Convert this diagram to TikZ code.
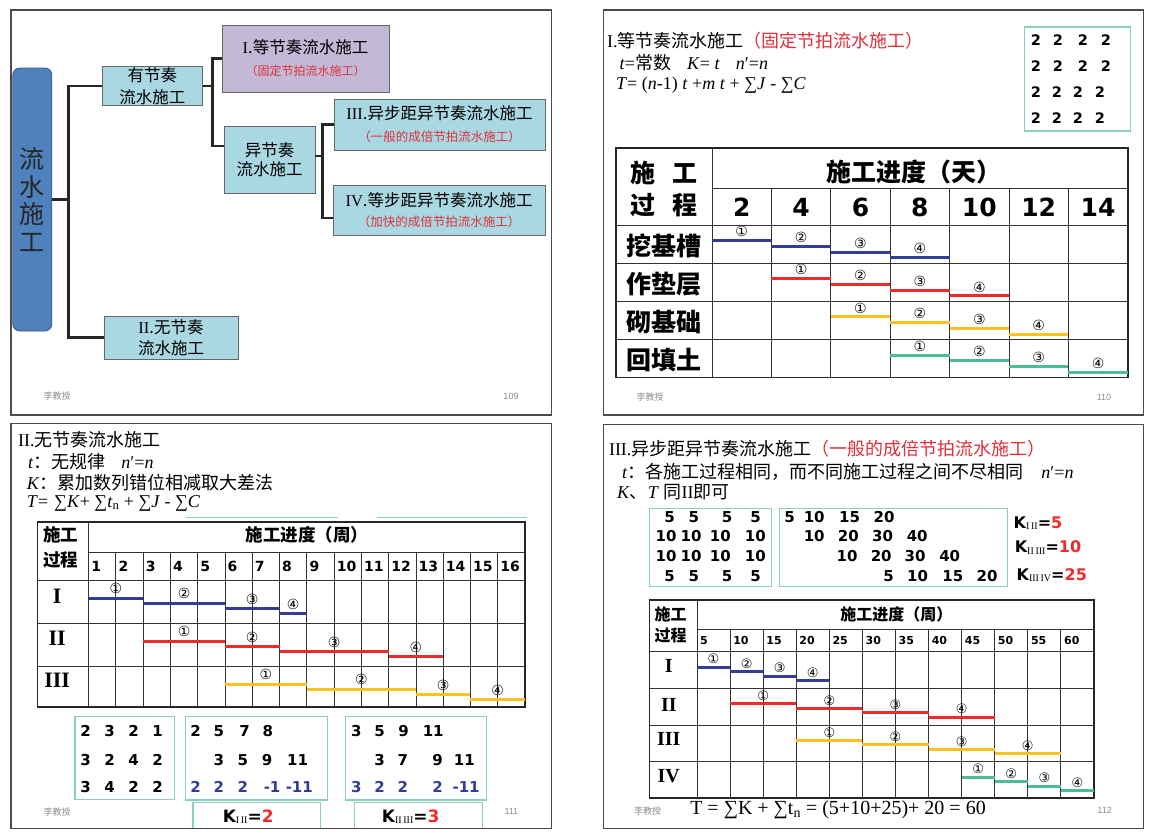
\documentclass[tikz,border=0pt]{standalone}
\usepackage{fontspec}
\setmainfont{Liberation Serif}
\newfontfamily\cjk{Noto Sans CJK SC}
\newfontfamily\heavy{DejaVu Sans}
\newfontfamily\plain{Liberation Sans}
\usetikzlibrary{positioning,calc}
\definecolor{boxblue}{HTML}{A9D8E2}
\definecolor{rootblue}{HTML}{4F81BD}
\definecolor{lilac}{HTML}{C3B8D5}
\definecolor{tred}{HTML}{E0303A}
\definecolor{tealline}{HTML}{8ACFC0}
\definecolor{barblue}{HTML}{343C96}
\definecolor{barred}{HTML}{EE2A2A}
\definecolor{baryel}{HTML}{FFC024}
\definecolor{bargrn}{HTML}{4DBD97}
\newcommand{\fsz}[1]{\fontsize{#1}{#1}\selectfont}
\newcommand{\hz}[1]{{\cjk #1}}
\newcommand{\hr}[1]{{\cjk\color{tred}#1}}
\newcommand{\ksub}[1]{\raisebox{-1.5pt}{\rmfamily\mdseries\fsz{10}#1}}
\newcommand{\circnum}[1]{\ifcase#1\or①\or②\or③\or④\fi}
\tikzset{
  slide/.style={draw=black!70, line width=1.3pt},
  leaf/.style={draw=black!60, line width=0.9pt, fill=boxblue, align=center,
               inner sep=0pt, font=\cjk\fontsize{16.5}{22}\selectfont},
  branch/.style={line width=2.4pt, draw=black!85},
  foot/.style={font=\cjk\fsz{9}, text=black!45, inner sep=0pt},
  grid/.style={line width=0.8pt, draw=black!80},
  frame/.style={line width=1.8pt, draw=black!85},
  bar/.style={line width=3pt},
  tag/.style={font=\heavy\fsz{14}, text=black, inner sep=0pt},
  numbox/.style={draw=tealline, line width=1.2pt},
  num/.style={font=\heavy\bfseries\fsz{15}, inner sep=0pt},
  txt/.style={anchor=west, inner sep=0pt, font=\fsz{18}}
}
\begin{document}
\begin{tikzpicture}[x=1pt, y=-1pt]
  \useasboundingbox (0,0) rectangle (1153,838);
  \fill[white] (0,0) rectangle (1153,838);

  % --- slide 109: the family tree ---
  \draw[slide] (11,10) rectangle (551.7,415);
  \node[draw=rootblue!70!black, fill=rootblue, rounded corners=7pt, line width=0.8pt,
        minimum width=39pt, minimum height=263pt, inner sep=0pt, align=center,
        text=black!85, font=\cjk\fontsize{25}{27.7}\selectfont] (root) at (32.3,199.5)
        {流\\水\\施\\工};
  \node[leaf, minimum width=100pt, minimum height=38.5pt] (yjz) at (152.3,85.8) {有节奏\\流水施工};
  \node[leaf, fill=lilac, minimum width=167pt, minimum height=67pt] (jp) at (305.5,58.5)
        {{\rmfamily I}.等节奏流水施工\\{\fsz{12}\color{tred}（固定节拍流水施工）}};
  \node[leaf, minimum width=91pt, minimum height=67pt, font=\cjk\fontsize{16.5}{19.5}\selectfont]
        (yjz2) at (269.5,159.5) {异节奏\\流水施工};
  \node[leaf, minimum width=211pt, minimum height=51pt] (yb) at (439.5,124.5)
        {{\rmfamily III}.异步距异节奏流水施工\\{\fsz{12.5}\color{tred}（一般的成倍节拍流水施工）}};
  \node[leaf, minimum width=212pt, minimum height=50pt, font=\cjk\fontsize{16.5}{20}\selectfont]
        (db) at (439,210)
        {{\rmfamily IV}.等步距异节奏流水施工\\{\fsz{12.5}\color{tred}（加快的成倍节拍流水施工）}};
  \node[leaf, minimum width=134pt, minimum height=43pt, font=\cjk\fontsize{16.5}{21}\selectfont]
        (wjz) at (171,337.5) {{\rmfamily II}.无节奏\\流水施工};
  % elbow connectors
  \coordinate (j1) at (68.6,199.5);
  \coordinate (j2) at (212.5,85.8);
  \coordinate (j3) at (322.5,156);
  \draw[branch] (root.east) -- (j1);
  \draw[branch] (yjz.west) -| (j1) |- (wjz.west);
  \draw[branch] (yjz.east) -- (j2);
  \draw[branch] (jp.west) -| (j2) |- ([yshift=13.5pt]yjz2.west);
  \draw[branch] ([yshift=3.5pt]yjz2.east) -- (j3);
  \draw[branch] (yb.west) -| (j3) |- ([yshift=-8pt]db.west);
  \node[foot] (f1a) at (57,396) {李教授};
  \node[foot, font=\plain\fsz{9}] (f1b) at (511,396) {109};

  % --- slide 110: fixed beat ---
  \draw[slide] (603.3,10) rectangle (1143.3,415);
  \node[txt] (t2) at (607,41) {I.\hz{等节奏流水施工}\hr{（固定节拍流水施工）}};
  \node[txt] (t2b) at (619.4,63)
        {\textit{t}=\hz{常数}\hspace{16pt}\textit{K}= \textit{t}\hspace{16pt}\textit{n}′=\textit{n}};
  \node[txt] (t2c) at (615.9,85)
        {\textit{T}= (\textit{n}-1) \textit{t} +\textit{m t} + ∑\textit{J} - ∑\textit{C}};
  \draw[numbox] (1024.5,27) rectangle (1130.3,131);
  \foreach \y in {40,66}
    \foreach \x [count=\i] in {1036,1058,1083,1106}
      \node[num, font=\heavy\bfseries\fsz{14.5}] (a\y\i) at (\x,\y) {2};
  \foreach \y in {92,118}
    \foreach \x [count=\i] in {1036,1057,1078,1100}
      \node[num, font=\heavy\bfseries\fsz{14.5}] (a\y\i) at (\x,\y) {2};
  % table
  \draw[frame] (615.9,148) rectangle (1128.2,377.4);
  \draw[grid] (712,148) -- (712,377.4);
  \draw[grid] (712,188) -- (1128.2,188);
  \foreach \i in {1,...,6}
    \draw[grid] ({712+59.4*\i},188) -- ({712+59.4*\i},377.4);
  \foreach \i in {0,...,3}
    \draw[grid] (615.9,{225+38.1*\i}) -- (1128.2,{225+38.1*\i});
  \node[font=\cjk\bfseries\fsz{25}] (hd2) at (914,172) {施工进度（天）};
  \node[font=\cjk\bfseries\fsz{25}] (pc2a) at (664,173) {施\hspace{17pt}工};
  \node[font=\cjk\bfseries\fsz{25}] (pc2b) at (664,205) {过\hspace{17pt}程};
  \foreach \d [count=\i from 0] in {2,4,...,14}
    \node[num, font=\heavy\bfseries\fsz{25}] (day\d) at ({712+59.4*(\i+0.5)},207) {\d};
  \foreach \w [count=\j from 0] in {挖基槽,作垫层,砌基础,回填土}
    \node[font=\cjk\bfseries\fsz{25}] (w\j) at (664,{246+38.1*\j}) {\w};
  \foreach \c [count=\j from 0] in {barblue,barred,baryel,bargrn}
    \foreach \k in {1,...,4} {
      \pgfmathsetmacro{\xa}{712+59.4*(\j+\k-1)}
      \pgfmathsetmacro{\yb}{225+38.1*\j+10+5.7*\k}
      \draw[bar, \c] (\xa,\yb) -- ++(59.4,0)
        node[tag, midway, yshift=9pt] (d\j\k) {\circnum{\k}};
    }
  \node[foot] (f2a) at (650,397) {李教授};
  \node[foot, font=\plain\fsz{9}] (f2b) at (1104,397) {110};

  % --- slide 111: no beat ---
  \draw[slide] (11,423.3) rectangle (551.7,828.5);
  \node[txt] (t3) at (17.9,440) {II.\hz{无节奏流水施工}};
  \node[txt] (t3b) at (27.9,461.7) {\textit{t}\hz{：无规律}\hspace{16pt}\textit{n}′=\textit{n}};
  \node[txt] (t3c) at (26.8,482.7) {\textit{K}\hz{：累加数列错位相减取大差法}};
  \node[txt] (t3d) at (26.8,503.3)
        {\textit{T}=\hspace{6pt}∑\textit{K}+ ∑\textit{t}\textsubscript{n} + ∑\textit{J} - ∑\textit{C}};
  \draw[tealline, line width=1pt] (185.7,517) -- (337.5,517);
  \draw[tealline, line width=1pt] (376.8,517) -- (526.8,517);
  % table
  \draw[frame] (37.5,521.7) rectangle (525,707);
  \draw[grid] (88.6,521.7) -- (88.6,707);
  \draw[grid] (88.6,552.7) -- (525,552.7);
  \foreach \i in {1,...,15}
    \draw[grid] ({88.6+27.275*\i},552.7) -- ({88.6+27.275*\i},707);
  \foreach \r in {580,623.3,666}
    \draw[grid] (37.5,\r) -- (525,\r);
  \node[font=\cjk\bfseries\fsz{17.5}] (hd3) at (307,535) {施工进度（周）};
  \node[font=\cjk\bfseries\fontsize{17.5}{25}\selectfont, align=center, inner sep=0pt]
        (pc3) at (60.7,547.5) {施工\\过程};
  \foreach \i in {1,...,16}
    \node[num, anchor=west, font=\heavy\bfseries\fsz{14}] (wk\i) at ({88.6+27.275*(\i-1)+2.5},566) {\i};
  \foreach \p [count=\j from 0] in {I,II,III}
    \node[font=\bfseries\fsz{22}] (p\j) at (57.1,{596.7+42*\j}) {\p};
  \foreach \c/\rt/\segs [count=\j from 0] in
      {barblue/580/{0/2,2/5,5/7,7/8}, barred/623.3/{2/5,5/7,7/11,11/13}, baryel/666/{5/8,8/12,12/14,14/16}}
    \foreach \sa/\sb [count=\k] in \segs {
      \pgfmathsetmacro{\yb}{\rt+12.8+5.2*\k}
      \draw[bar, \c] ({88.6+27.275*\sa},\yb) -- ({88.6+27.275*\sb},\yb)
        node[tag, midway, yshift=9.5pt] (n\j\k) {\circnum{\k}};
    }
  % difference boxes
  \draw[numbox] (75,716.7) rectangle (174.3,799.3);
  \draw[numbox] (185.7,716.7) rectangle (327.1,800);
  \draw[numbox] (345.7,716.7) rectangle (486.4,800);
  \foreach \y/\row [count=\r] in {730.7/{2,3,2,1}, 760/{3,2,4,2}, 787.3/{3,4,2,2}}
    \foreach \v [count=\i] in \row
      \node[num] (sa\r\i) at ({61.7+24*\i},\y) {\v};
  \foreach \x/\v [count=\i] in {195.7/2, 218.9/5, 244.6/7, 267.9/8}
    \node[num] (sb1\i) at (\x,730.7) {\v};
  \foreach \x/\v [count=\i] in {218.9/3, 242.9/5, 267.1/9, 297.5/11}
    \node[num] (sb2\i) at (\x,760) {\v};
  \foreach \x/\v [count=\i] in {195.7/2, 218.9/2, 242.9/2, 272.1/-1, 299.3/-11}
    \node[num, text=barblue] (sb3\i) at (\x,787.3) {\v};
  \foreach \x/\v [count=\i] in {356.4/3, 379.6/5, 403.6/9, 433.2/11}
    \node[num] (sc1\i) at (\x,730.7) {\v};
  \foreach \x/\v [count=\i] in {379.6/3, 402.9/7, 437.5/9, 464.3/11}
    \node[num] (sc2\i) at (\x,760) {\v};
  \foreach \x/\v [count=\i] in {356.4/3, 379.6/2, 402.9/2, 437.5/2, 466.1/-11}
    \node[num, text=barblue] (sc3\i) at (\x,787.3) {\v};
  \draw[numbox] (192.9,802.3) rectangle (320.7,828.5);
  \draw[numbox] (354.3,802.3) rectangle (482.1,828.5);
  \node[num, font=\heavy\bfseries\fsz{17}] (k12) at (248.2,816.5)
        {K\ksub{I\,II}=\textcolor{barred}{2}};
  \node[num, font=\heavy\bfseries\fsz{17}] (k23) at (410.7,816.5)
        {K\ksub{II\,III}=\textcolor{barred}{3}};
  \draw[slide] (11,828.5) -- (551.7,828.5);
  \node[foot] (f3a) at (57.1,811.7) {李教授};
  \node[foot, font=\plain\fsz{9}] (f3b) at (511.4,811.7) {111};

  % --- slide 112: multiple beat ---
  \draw[slide] (603.3,424.5) rectangle (1143.3,828.5);
  \node[txt] (t4) at (608.8,448.3) {III.\hz{异步距异节奏流水施工}\hr{（一般的成倍节拍流水施工）}};
  \node[txt] (t4b) at (621.9,471.7)
        {\textit{t}\hz{：各施工过程相同，而不同施工过程之间不尽相同}\hspace{18pt}\textit{n}′=\textit{n}};
  \node[txt] (t4c) at (617,491.7) {\textit{K}\hz{、}\textit{T} \hz{同}II\hz{即可}};
  \draw[numbox] (649.4,508.3) rectangle (771.1,586.7);
  \draw[numbox] (779.3,508.3) rectangle (1007.6,586.7);
  \foreach \y [count=\r] in {516.7,576}
    \foreach \x [count=\i] in {669.5,693.9,727,755.6}
      \node[num] (ta\r\i) at (\x,\y) {5};
  \foreach \y [count=\r from 3] in {536,556}
    \foreach \x [count=\i] in {666,691,720.3,755.3}
      \node[num] (ta\r\i) at (\x,\y) {10};
  \foreach \x/\v [count=\i] in {789.5/5, 814.2/10, 849.5/15, 884/20}
    \node[num] (tb1\i) at (\x,516.7) {\v};
  \foreach \x/\v [count=\i] in {814.2/10, 848.4/20, 882.6/30, 917.2/40}
    \node[num] (tb2\i) at (\x,536) {\v};
  \foreach \x/\v [count=\i] in {847/10, 881.2/20, 915.1/30, 949.7/40}
    \node[num] (tb3\i) at (\x,556) {\v};
  \foreach \x/\v [count=\i] in {888.6/5, 917.6/10, 952.9/15, 987.1/20}
    \node[num] (tb4\i) at (\x,576) {\v};
  \node[num, anchor=west, font=\heavy\bfseries\fsz{16}] (ka) at (1013.5,523.3)
        {K\ksub{I\,II}=\textcolor{barred}{5}};
  \node[num, anchor=west, font=\heavy\bfseries\fsz{16}] (kb) at (1014.6,547.7)
        {K\ksub{II\,III}=\textcolor{barred}{10}};
  \node[num, anchor=west, font=\heavy\bfseries\fsz{16}] (kc) at (1016.4,575)
        {K\ksub{III\,IV}=\textcolor{barred}{25}};
  % table
  \draw[frame] (649.4,600) rectangle (1094,798.3);
  \draw[grid] (697,600) -- (697,798.3);
  \draw[grid] (697,629.3) -- (1094,629.3);
  \foreach \i in {1,...,11}
    \draw[grid] ({697+33.08*\i},629.3) -- ({697+33.08*\i},798.3);
  \foreach \r in {651.7,688.4,725,761.7}
    \draw[grid] (649.4,\r) -- (1094,\r);
  \node[font=\cjk\bfseries\fsz{16}] (hd4) at (896.4,614) {施工进度（周）};
  \node[font=\cjk\bfseries\fontsize{16}{21}\selectfont, align=center, inner sep=0pt]
        (pc4) at (670.6,624.5) {施工\\过程};
  \foreach \n [count=\i from 0] in {5,10,...,60}
    \node[num, anchor=west, font=\heavy\bfseries\fsz{11}] (m\n) at ({697+33.08*\i+3},640.7) {\n};
  \foreach \p/\y [count=\j from 0] in {I/666,II/705,III/739.3,IV/776}
    \node[font=\bfseries\fsz{20}] (q\j) at (668.8,\y) {\p};
  \foreach \c/\rt/\segs [count=\j from 0] in
      {barblue/651.7/{0/1,1/2,2/3,3/4}, barred/688.4/{1/3,3/5,5/7,7/9},
       baryel/725/{3/5,5/7,7/9,9/11}, bargrn/761.7/{8/9,9/10,10/11,11/12}}
    \foreach \sa/\sb [count=\k] in \segs {
      \pgfmathsetmacro{\yb}{\rt+11.1+4.4*\k}
      \draw[bar, \c] ({697+33.08*\sa},\yb) -- ({697+33.08*\sb},\yb)
        node[tag, midway, yshift=8pt, font=\heavy\fsz{13}] (s\j\k) {\circnum{\k}};
    }
  \node[font=\fsz{20}] (tf) at (838,810) {T = ∑K + ∑t\textsubscript{n} = (5+10+25)+ 20 = 60};
  \node[foot] (f4a) at (647.6,810.7) {李教授};
  \node[foot, font=\plain\fsz{9}] (f4b) at (1104.6,810) {112};
\end{tikzpicture}
\end{document}
